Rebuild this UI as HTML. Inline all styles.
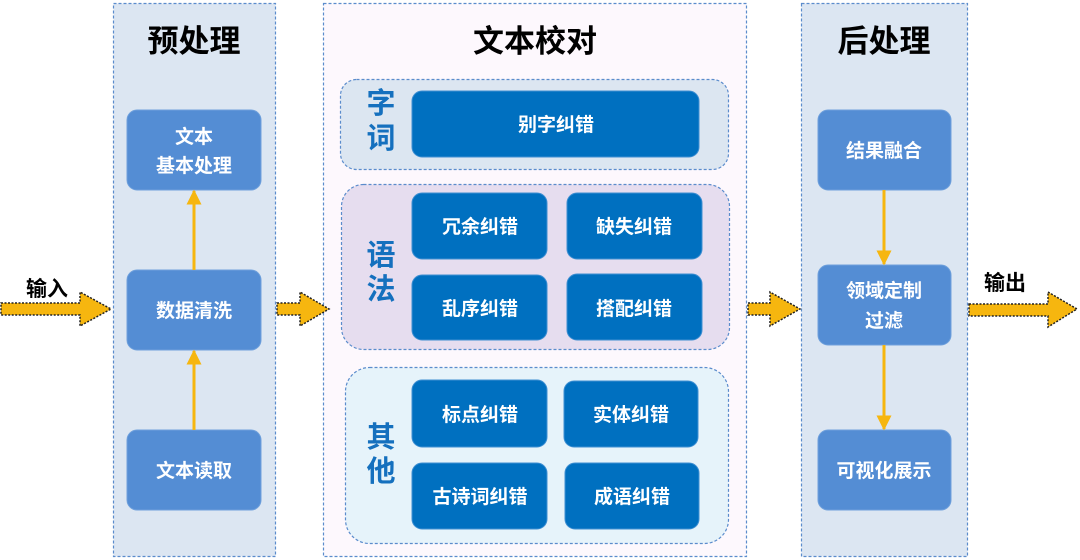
<!DOCTYPE html>
<html><head><meta charset="utf-8"><style>
html,body{margin:0;padding:0;background:#fff;width:1080px;height:560px;overflow:hidden}
text{font-family:"Liberation Sans","Noto Sans CJK SC",sans-serif;font-weight:bold}
</style></head><body>
<svg width="1080" height="560" viewBox="0 0 1080 560" xmlns="http://www.w3.org/2000/svg">
<defs>
<marker id="ah" viewBox="0 0 10 10" refX="9" refY="5" markerWidth="5" markerHeight="5" orient="auto"><path d="M0,0 L10,5 L0,10 z" fill="#f6b60f"/></marker>
</defs>
<!-- panels -->
<rect x="113.5" y="3.5" width="162" height="553" fill="#dce6f2" stroke="#5b8ccc" stroke-width="1.2" stroke-dasharray="3,2"/>
<rect x="323.5" y="3.5" width="423" height="553" fill="#fdf8fd" stroke="#5b8ccc" stroke-width="1.2" stroke-dasharray="3,2"/>
<rect x="801.5" y="3.5" width="166" height="553" fill="#dce6f2" stroke="#5b8ccc" stroke-width="1.2" stroke-dasharray="3,2"/>
<text x="194" y="52" font-size="31" text-anchor="middle" fill="#000">预处理</text>
<text x="535" y="52" font-size="31" text-anchor="middle" fill="#000">文本校对</text>
<text x="884" y="52" font-size="31" text-anchor="middle" fill="#000">后处理</text>
<!-- panel1 boxes -->
<g fill="#548dd4" stroke="#6fa0dc" stroke-width="1">
<rect x="127" y="110" width="134" height="80" rx="10"/>
<rect x="127" y="270" width="134" height="80" rx="10"/>
<rect x="127" y="430" width="134" height="80" rx="10"/>
<rect x="818" y="110" width="133" height="80" rx="10"/>
<rect x="818" y="265" width="133" height="80" rx="10"/>
<rect x="818" y="430" width="133" height="80" rx="10"/>
</g>
<g fill="#fff" font-size="19" text-anchor="middle">
<text x="194" y="143">文本</text>
<text x="194" y="172">基本处理</text>
<text x="194" y="317">数据清洗</text>
<text x="194" y="477">文本读取</text>
<text x="884" y="157">结果融合</text>
<text x="884" y="297">领域定制</text>
<text x="884" y="327">过滤</text>
<text x="884" y="477">可视化展示</text>
</g>
<!-- vertical arrows -->
<g stroke="#f6b60f" stroke-width="3" fill="none" marker-end="url(#ah)">
<line x1="194" y1="270" x2="194" y2="191"/>
<line x1="194" y1="430" x2="194" y2="351"/>
<line x1="884" y1="190" x2="884" y2="264"/>
<line x1="884" y1="345" x2="884" y2="429"/>
</g>
<!-- groups -->
<rect x="340.5" y="79.5" width="388" height="90" rx="16" fill="#dce6f1" stroke="#5b8ccc" stroke-width="1.2" stroke-dasharray="3,2"/>
<rect x="341.5" y="184.5" width="388" height="165" rx="22" fill="#e6ddef" stroke="#5b8ccc" stroke-width="1.2" stroke-dasharray="3,2"/>
<rect x="345.5" y="367.5" width="383" height="176" rx="24" fill="#e6f3fa" stroke="#5b8ccc" stroke-width="1.2" stroke-dasharray="3,2"/>
<g fill="#1570be" font-size="29" text-anchor="middle">
<text x="381" y="113">字</text><text x="381" y="148">词</text>
<text x="381" y="265">语</text><text x="381" y="299">法</text>
<text x="381" y="447">其</text><text x="381" y="481">他</text>
</g>
<g fill="#0070c0" stroke="#3f8fd2" stroke-width="1">
<rect x="412" y="91" width="287" height="66" rx="10"/>
<rect x="412" y="193" width="135" height="66" rx="10"/>
<rect x="567" y="193" width="135" height="66" rx="10"/>
<rect x="412" y="275" width="135" height="65" rx="10"/>
<rect x="567" y="274" width="135" height="66" rx="10"/>
<rect x="412" y="380" width="135" height="67" rx="10"/>
<rect x="564" y="381" width="134" height="66" rx="10"/>
<rect x="412" y="463" width="135" height="66" rx="10"/>
<rect x="565" y="463" width="134" height="66" rx="10"/>
</g>
<g fill="#fff" font-size="19" text-anchor="middle">
<text x="556" y="131">别字纠错</text>
<text x="480" y="233">冗余纠错</text>
<text x="634" y="233">缺失纠错</text>
<text x="480" y="315">乱序纠错</text>
<text x="634" y="315">搭配纠错</text>
<text x="480" y="421">标点纠错</text>
<text x="631" y="421">实体纠错</text>
<text x="480" y="503">古诗词纠错</text>
<text x="632" y="503">成语纠错</text>
</g>
<!-- block arrows -->
<g fill="#f6b60f" stroke="#222" stroke-width="1.5" stroke-dasharray="2,1.5">
<path d="M1,303 L80,303 L80,292 L111,309 L80,326 L80,315 L1,315 z"/>
<path d="M277,303 L300,303 L300,292 L329,309 L300,326 L300,315 L277,315 z"/>
<path d="M748,303 L770,303 L770,292 L800,309 L770,326 L770,315 L748,315 z"/>
<path d="M969,304 L1048,304 L1048,292 L1077,309 L1048,327 L1048,316 L969,316 z"/>
</g>
<text x="47" y="296" font-size="21" text-anchor="middle" fill="#000">输入</text>
<text x="1005" y="290" font-size="21" text-anchor="middle" fill="#000">输出</text>
</svg>
</body></html>
